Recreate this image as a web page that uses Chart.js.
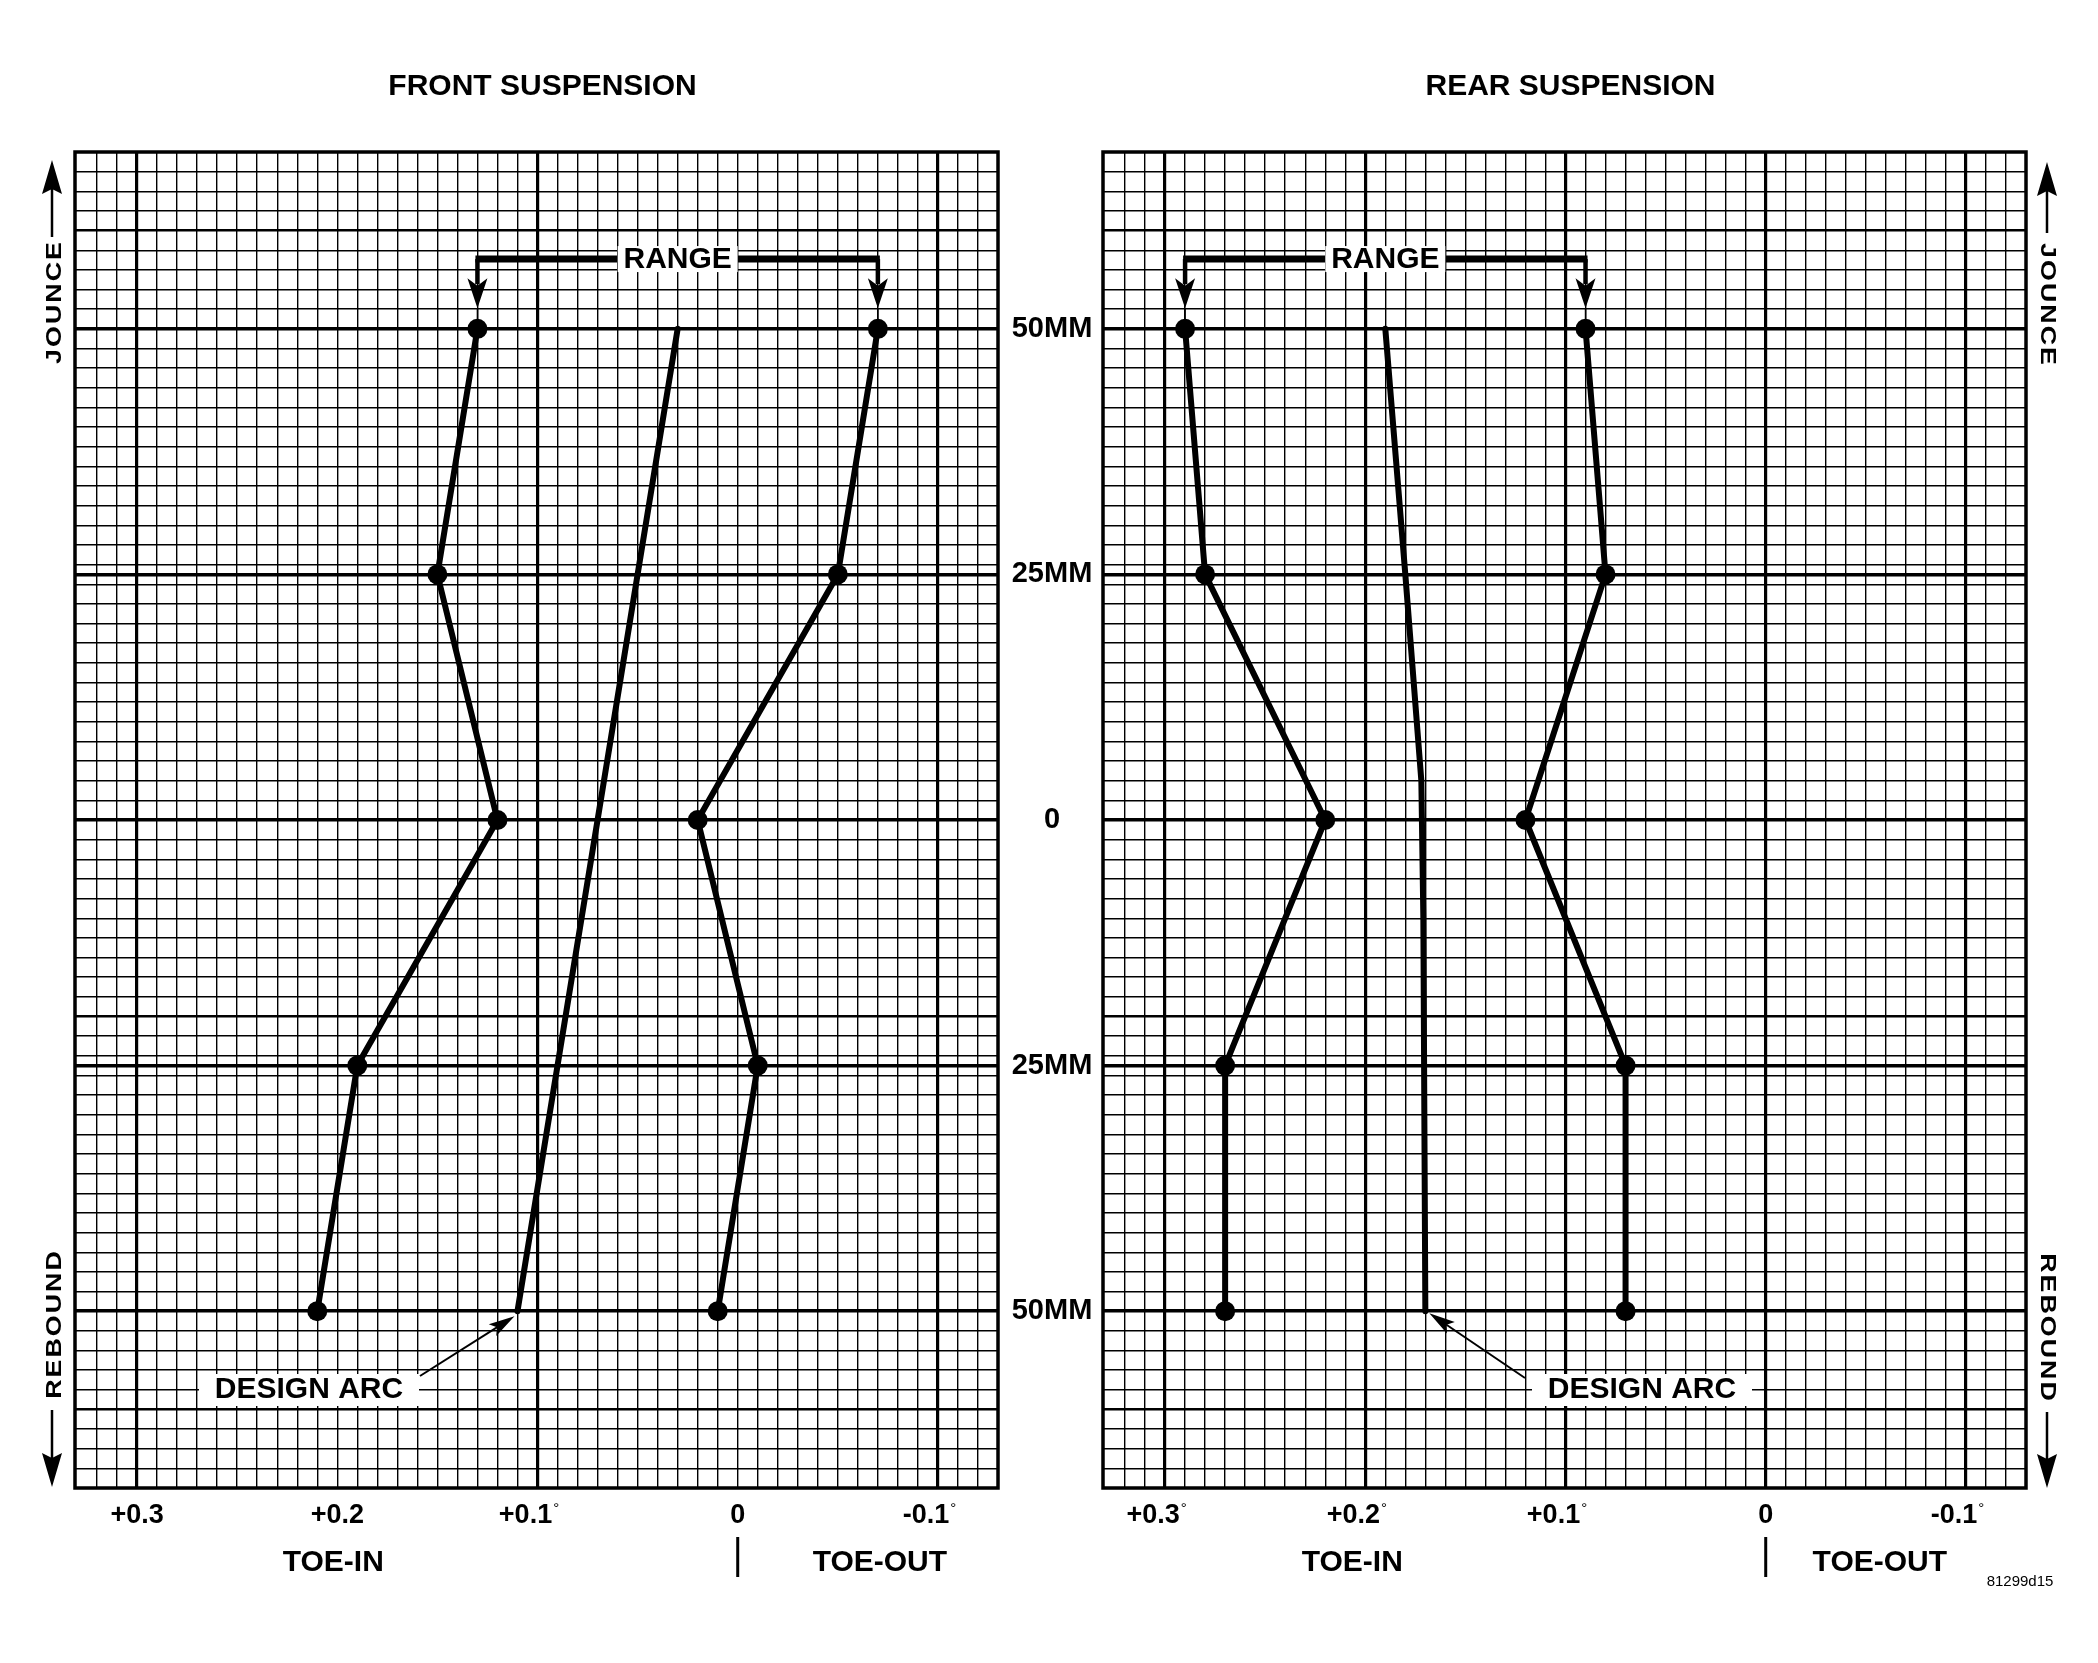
<!DOCTYPE html>
<html>
<head>
<meta charset="utf-8">
<title>Toe curves</title>
<script src="https://cdn.jsdelivr.net/npm/chart.js@4.4.1/dist/chart.umd.min.js"></script>
<style>
  html, body { margin: 0; padding: 0; background: #fff; }
  #wrap { position: relative; width: 2098px; height: 1663px; overflow: hidden; background: #fff; }
  canvas { position: absolute; top: 0; }
  #frontChart { left: 0; }
  #rearChart { left: 1100px; }
</style>
</head>
<body>
<div id="wrap">
  <canvas id="frontChart" width="1100" height="1663"></canvas>
  <canvas id="rearChart" width="998" height="1663"></canvas>
</div>
<script>
// Данные: ход подвески (мм) и схождение (градусы)
const travelMM = [50, 25, 0, -25, -50];
const frontRangeIn = [0.13, 0.15, 0.12, 0.19, 0.21];
const frontRangeOut = [-0.07, -0.05, 0.02, -0.01, 0.01];
const frontArcMM = [50, -50];
const frontArcToe = [0.03, 0.11];
const rearRangeIn = [0.29, 0.28, 0.22, 0.27, 0.27];
const rearRangeOut = [0.09, 0.08, 0.12, 0.07, 0.07];
const rearArcMM = [50, 25, 4, -10, -50];
const rearArcToe = [0.19, 0.18, 0.172, 0.171, 0.17];

// Подписи осей
const travelTicks = [50, 25, 0, -25, -50];
const travelLabels = ['50MM', '25MM', '0', '25MM', '50MM'];
const toeTicks = [0.3, 0.2, 0.1, 0, -0.1];
const frontToeLabels = ['+0.3', '+0.2', '+0.1°', '0', '-0.1°'];
const rearToeLabels = ['+0.3°', '+0.2°', '+0.1°', '0', '-0.1°'];

const FONT = '"Liberation Sans", Arial, Helvetica, sans-serif';

const pts = (xs, ys) => xs.map((x, i) => ({ x: x, y: ys[i] }));

function label(ctx, str, x, y, size, weight) {
    ctx.save();
    ctx.font = (weight || 'bold') + ' ' + size + 'px ' + FONT;
    ctx.fillStyle = '#000';
    ctx.textAlign = 'center';
    ctx.textBaseline = 'middle';
    ctx.fillText(str, x, y);
    ctx.restore();
}

// Подпись деления со знаком градуса
function toeLabel(ctx, str, x, y) {
    ctx.save();
    ctx.fillStyle = '#000';
    ctx.textBaseline = 'middle';
    ctx.font = 'bold 27px ' + FONT;
    const deg = str.endsWith('°');
    const num = deg ? str.slice(0, -1) : str;
    const cx = deg ? x - 12 : x;
    ctx.textAlign = 'center';
    ctx.fillText(num, cx, y);
    if (deg) {
        const w = ctx.measureText(num).width;
        ctx.font = 'normal 15px ' + FONT;
        ctx.textAlign = 'left';
        ctx.fillText('°', cx + w / 2 + 1, y - 7);
    }
    ctx.restore();
}

// Повёрнутый растянутый текст с разрядкой
function spacedRotated(ctx, str, x, y, size, spacing, angle, stretch) {
    ctx.save();
    ctx.font = 'bold ' + size + 'px ' + FONT;
    ctx.fillStyle = '#000';
    ctx.textBaseline = 'middle';
    ctx.textAlign = 'left';
    ctx.translate(x, y);
    ctx.rotate(angle);
    ctx.scale(stretch, 1);
    const sp = spacing / stretch;
    const widths = [...str].map(ch => ctx.measureText(ch).width);
    const total = widths.reduce((s, w) => s + w, 0) + sp * (str.length - 1);
    let pos = -total / 2;
    [...str].forEach((ch, i) => {
        ctx.fillText(ch, pos, 0);
        pos += widths[i] + sp;
    });
    ctx.restore();
}

function line(ctx, x1, y1, x2, y2) {
    ctx.beginPath();
    ctx.moveTo(x1, y1);
    ctx.lineTo(x2, y2);
    ctx.stroke();
}

// Наконечник стрелки: острие в (x, y), направление angle
function arrowHead(ctx, x, y, angle, len, half, notch) {
    ctx.save();
    ctx.translate(x, y);
    ctx.rotate(angle);
    ctx.beginPath();
    ctx.moveTo(0, 0);
    ctx.lineTo(-len, -half);
    ctx.lineTo(-len * (notch || 1), 0);
    ctx.lineTo(-len, half);
    ctx.closePath();
    ctx.fill();
    ctx.restore();
}

function whiteBox(ctx, x1, y1, x2, y2) {
    ctx.save();
    ctx.fillStyle = '#fff';
    ctx.fillRect(x1, y1, x2 - x1, y2 - y1);
    ctx.restore();
}

function makeNotes(cfg) {
    return {
        id: 'notes',
        afterDraw(chart) {
            const ctx = chart.ctx;
            const a = chart.chartArea;
            const px = v => chart.scales.x.getPixelForValue(v);
            const py = v => chart.scales.y.getPixelForValue(v);
            ctx.save();
            ctx.strokeStyle = '#000';
            ctx.fillStyle = '#000';

            // рамка
            ctx.lineWidth = 3.5;
            ctx.strokeRect(a.left, a.top, a.right - a.left, a.bottom - a.top);

            // заголовок
            label(ctx, cfg.title, (a.left + a.right) / 2 + 6, 87, 30);

            // подписи по оси схождения
            toeTicks.forEach((v, i) => toeLabel(ctx, cfg.toeLabels[i], px(v), a.bottom + 28));
            label(ctx, 'TOE-IN', px(0.2) + cfg.toeInShift, a.bottom + 75, 30);
            label(ctx, 'TOE-OUT', px(cfg.toeOutAt), a.bottom + 75, 30);
            ctx.lineWidth = 3;
            line(ctx, px(0), a.bottom + 49, px(0), a.bottom + 89);

            // подписи хода между графиками
            if (cfg.travelLabels) {
                travelTicks.forEach((v, i) => label(ctx, travelLabels[i], a.right + 54, py(v), 29));
            }

            // RANGE
            const barY = py(57.1), tipY = py(52.1), dotY = py(50);
            const xl = px(cfg.rangeIn[0]), xr = px(cfg.rangeOut[0]), xc = px(cfg.arcToe[0]);
            ctx.lineWidth = 7;
            line(ctx, xl - 2, barY, xr + 2, barY);
            ctx.lineWidth = 4.5;
            line(ctx, xl, barY, xl, tipY - 24);
            line(ctx, xr, barY, xr, tipY - 24);
            ctx.lineWidth = 1.5;
            line(ctx, xl, tipY, xl, dotY);
            line(ctx, xr, tipY, xr, dotY);
            arrowHead(ctx, xl, tipY, Math.PI / 2, 30, 10, 0.75);
            arrowHead(ctx, xr, tipY, Math.PI / 2, 30, 10, 0.75);
            whiteBox(ctx, xc - 60, barY - 13, xc + 60, barY + 13);
            label(ctx, 'RANGE', xc, barY + 1, 30);

            // DESIGN ARC
            const n = cfg.arcToe.length - 1;
            const tx = px(cfg.arcToe[n]) + cfg.tipDx, ty = py(cfg.arcMM[n]) + cfg.tipDy;
            const lx = a.left + cfg.noteFromX, ly = a.bottom - cfg.noteFromY;
            const nx = a.left + cfg.noteX, ny = a.bottom - 98;
            whiteBox(ctx, nx - 110, ny - 16, nx + 110, ny + 16);
            label(ctx, 'DESIGN ARC', nx, ny, 30);
            ctx.lineWidth = 2;
            const ang = Math.atan2(ty - ly, tx - lx);
            line(ctx, lx, ly, tx - Math.cos(ang) * 18, ty - Math.sin(ang) * 18);
            arrowHead(ctx, tx, ty, ang, 26, 7, 0.8);

            // JOUNCE / REBOUND
            ctx.lineWidth = 2.5;
            if (cfg.side === 'left') {
                const sx = a.left - 23;
                spacedRotated(ctx, 'JOUNCE', sx + 3, a.top + 151, 22, 2, -Math.PI / 2, 1.22);
                line(ctx, sx, a.top + 85, sx, a.top + 30);
                arrowHead(ctx, sx, a.top + 8, -Math.PI / 2, 34, 10, 0.85);
                spacedRotated(ctx, 'REBOUND', sx + 3, a.bottom - 163, 22, 2, -Math.PI / 2, 1.22);
                line(ctx, sx, a.bottom - 78, sx, a.bottom - 25);
                arrowHead(ctx, sx, a.bottom - 1, Math.PI / 2, 34, 10, 0.85);
            } else {
                const sx = a.right + 21;
                spacedRotated(ctx, 'JOUNCE', sx, a.top + 152, 22, 2, Math.PI / 2, 1.22);
                line(ctx, sx, a.top + 81, sx, a.top + 30);
                arrowHead(ctx, sx, a.top + 10, -Math.PI / 2, 34, 10, 0.85);
                spacedRotated(ctx, 'REBOUND', sx, a.bottom - 161, 22, 2, Math.PI / 2, 1.22);
                line(ctx, sx, a.bottom - 76, sx, a.bottom - 25);
                arrowHead(ctx, sx, a.bottom, Math.PI / 2, 34, 10, 0.85);
                label(ctx, '81299d15', a.right - 6, a.bottom + 94, 15, 'normal');
            }
            ctx.restore();
        }
    };
}

function makeChart(id, cfg) {
    const heavyX = cfg.heavyX;
    return new Chart(document.getElementById(id), {
        type: 'line',
        data: {
            datasets: [
                { data: pts(cfg.rangeIn, travelMM), pointRadius: 10 },
                { data: pts(cfg.rangeOut, travelMM), pointRadius: 10 },
                { data: pts(cfg.arcToe, cfg.arcMM), pointRadius: 0 }
            ]
        },
        options: {
            responsive: false,
            animation: false,
            devicePixelRatio: 1,
            layout: { padding: cfg.padding, autoPadding: false },
            elements: {
                line: { borderColor: '#000', borderWidth: 6, tension: 0, borderJoinStyle: 'round', borderCapStyle: 'round' },
                point: { backgroundColor: '#000', borderWidth: 0, hoverRadius: 10 }
            },
            plugins: {
                legend: { display: false },
                tooltip: { enabled: false }
            },
            scales: {
                x: {
                    type: 'linear',
                    reverse: true,
                    min: -0.13,
                    max: 0.331,
                    ticks: { display: false, stepSize: 0.01 },
                    border: { display: false },
                    afterBuildTicks: s => {
                        s.ticks = s.ticks.filter(t => Math.abs(t.value * 100 - Math.round(t.value * 100)) < 1e-6);
                    },
                    grid: {
                        color: '#000',
                        drawTicks: false,
                        lineWidth: c => {
                            if (!c.tick) return 1.4;
                            return heavyX.includes(Math.round(c.tick.value * 100)) ? 3.2 : 1.4;
                        }
                    }
                },
                y: {
                    type: 'linear',
                    min: -68,
                    max: 68,
                    ticks: { display: false, stepSize: 2 },
                    border: { display: false },
                    afterBuildTicks: s => {
                        s.ticks.push({ value: 25 }, { value: -25 });
                    },
                    grid: {
                        color: '#000',
                        drawTicks: false,
                        lineWidth: c => {
                            if (!c.tick) return 1.4;
                            const v = Math.round(c.tick.value);
                            if ([50, 25, 0, -25, -50].includes(v)) return 3.4;
                            if ([60, -20, -60].includes(v)) return 2.6;
                            return 1.4;
                        }
                    }
                }
            }
        },
        plugins: [makeNotes(cfg)]
    });
}

function initCharts() {
    makeChart('frontChart', {
        title: 'FRONT SUSPENSION',
        padding: { left: 75, right: 102, top: 152, bottom: 175 },
        rangeIn: frontRangeIn,
        rangeOut: frontRangeOut,
        arcToe: frontArcToe,
        arcMM: frontArcMM,
        heavyX: [30, 10, -10],
        toeLabels: frontToeLabels,
        toeInShift: -4,
        toeOutAt: -0.071,
        travelLabels: true,
        noteX: 234, noteFromX: 345, noteFromY: 112, tipDx: -3, tipDy: 5,
        side: 'left'
    });
    makeChart('rearChart', {
        title: 'REAR SUSPENSION',
        padding: { left: 3, right: 72, top: 152, bottom: 175 },
        rangeIn: rearRangeIn,
        rangeOut: rearRangeOut,
        arcToe: rearArcToe,
        arcMM: rearArcMM,
        heavyX: [30, 20, 10, 0, -10],
        toeLabels: rearToeLabels,
        toeInShift: -13,
        toeOutAt: -0.057,
        travelLabels: false,
        noteX: 539, noteFromX: 422, noteFromY: 110, tipDx: 4, tipDy: 2,
        side: 'right'
    });
}

document.addEventListener('DOMContentLoaded', initCharts);
</script>
</body>
</html>
